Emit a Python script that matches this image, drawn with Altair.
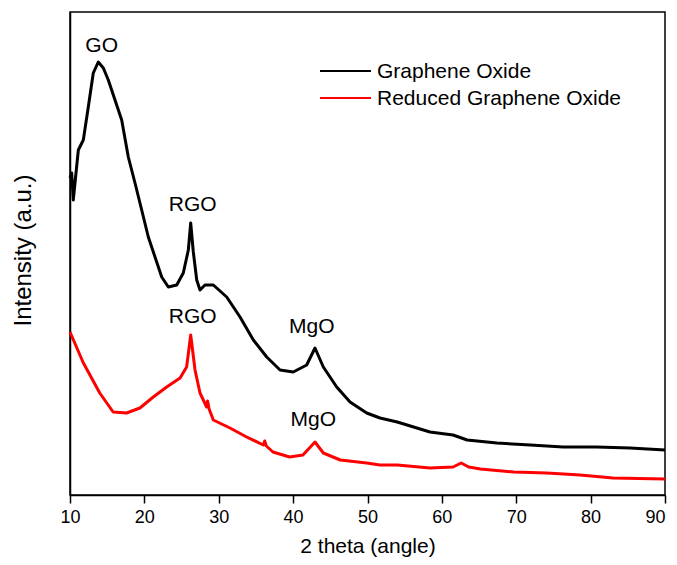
import altair as alt
import pandas as pd

# Graphene Oxide (black) — 2θ (deg) and relative intensity (a.u.)
go_x = [10.0, 10.23, 10.44, 11.12, 11.79, 12.46, 13.13, 13.80, 14.48, 15.15, 16.05, 16.95,
        17.84, 18.74, 19.64, 20.53, 21.43, 22.33, 23.22, 24.35, 25.23, 25.91, 26.23, 26.58,
        27.04, 27.48, 28.15, 29.27, 31.07, 32.86, 34.65, 36.45, 38.24, 40.02, 41.82, 42.94,
        44.06, 45.86, 47.65, 49.89, 51.68, 54.0, 58.4, 61.5, 63.4, 67.4, 71.9, 76.3, 80.8,
        85.3, 90.0]
go_y = [317, 322, 295, 345, 355, 388, 422, 433, 427, 415, 395, 375,
        338, 312, 285, 258, 238, 218, 208, 210, 222, 245, 272, 243,
        215, 205, 210, 210, 198, 178, 155, 138, 125, 123, 130, 147,
        128, 108, 93, 82, 77, 73, 63, 60, 55, 52, 50, 48, 48,
        47, 45]

# Reduced Graphene Oxide (red)
rgo_x = [10.0, 11.8, 14.0, 15.8, 17.6, 19.4, 21.2, 23.0, 24.8, 25.68, 26.23, 26.81, 27.48,
         28.37, 28.5, 28.7, 29.27, 31.51, 33.75, 36.0, 36.18, 36.4, 37.29, 39.53, 41.32,
         42.94, 44.06, 46.34, 49.9, 51.68, 54.0, 58.4, 61.5, 62.6, 63.6, 65.2, 69.7, 74.1,
         78.6, 83.0, 90.0]
rgo_y = [163, 132, 102, 83, 82, 87, 98, 108, 117, 128, 160, 125, 102,
         88, 94, 86, 75, 67, 58, 50, 54, 49, 43, 38, 40,
         53, 42, 35, 32, 30, 30, 27, 28, 32, 28, 26, 23, 22,
         20, 17, 16]

ann_text = ["GO", "RGO", "RGO", "MgO", "MgO"]
ann_x = [14.26, 26.5, 26.5, 42.5, 42.7]
ann_y = [449, 290, 178, 168, 75]

legend_labels = ["Graphene Oxide", "Reduced Graphene Oxide"]
series_colors = ["#000000", "#ff0000"]

x_ticks = [10, 15, 20, 25, 30, 35, 40, 45, 50, 55, 60, 65, 70, 75, 80, 85, 90]

FONT = "Liberation Sans"

df = pd.concat([
    pd.DataFrame({"x": go_x, "y": go_y, "s": legend_labels[0]}),
    pd.DataFrame({"x": rgo_x, "y": rgo_y, "s": legend_labels[1]}),
])
ann = pd.DataFrame({"t": ann_text, "x": ann_x, "y": ann_y})

xscale = alt.Scale(domain=[10, 90], nice=False, zero=False)
yscale = alt.Scale(domain=[0, 483], nice=False, zero=False)

lines = alt.Chart(df).mark_line(strokeWidth=3, strokeJoin="round").encode(
    x=alt.X("x:Q", scale=xscale, title="2 theta (angle)",
            axis=alt.Axis(values=x_ticks, grid=False, domainColor="black", domainWidth=1.5,
                          tickColor="black", tickWidth=1.5,
                          tickSize=alt.ExprRef("datum.value % 10 === 0 ? 8 : 5"),
                          labelExpr="datum.value % 10 === 0 ? datum.label : ''",
                          labelAlign=alt.ExprRef("datum.value === 90 ? 'right' : 'center'"),
                          labelFont=FONT, labelFontSize=18, labelColor="black", labelPadding=5,
                          labelFlush=False,
                          titleFont=FONT, titleFontSize=21, titleFontWeight="normal",
                          titleColor="black", titlePadding=9)),
    y=alt.Y("y:Q", scale=yscale, title="Intensity (a.u.)",
            axis=alt.Axis(labels=False, ticks=False, grid=False, domainColor="black",
                          domainWidth=1.5, titleFont=FONT, titleFontSize=24,
                          titleFontWeight="normal", titleColor="black",
                          titleX=-35, titleY=238)),
    color=alt.Color("s:N", scale=alt.Scale(domain=legend_labels, range=series_colors),
                    legend=None),
    detail="s:N",
)

labels = alt.Chart(ann).mark_text(font=FONT, fontSize=21, color="black",
                                  align="center", baseline="middle").encode(
    x=alt.X("x:Q", scale=xscale), y=alt.Y("y:Q", scale=yscale), text="t:N")

layers = [lines, labels]
leg_rows_y = [59, 86]
for lab, col, ry in zip(legend_labels, series_colors, leg_rows_y):
    one = alt.Chart(pd.DataFrame({"label": [lab]}))
    layers.append(one.mark_rule(strokeWidth=2.2, color=col).encode(
        x=alt.value(250), x2=alt.value(301), y=alt.value(ry)))
    layers.append(one.mark_text(font=FONT, fontSize=21, align="left", baseline="middle",
                                color="black").encode(
        x=alt.value(307), y=alt.value(ry + 1), text="label:N"))

chart = alt.layer(*layers).properties(
    width=595, height=483,
    autosize=alt.AutoSizeParams(type="none"),
    padding={"left": 62, "top": 4, "right": 4, "bottom": 62},
    background="white",
).configure_view(stroke="black", strokeWidth=1.5)

chart.save("out.html", embed_options={"renderer": "svg", "actions": False})
